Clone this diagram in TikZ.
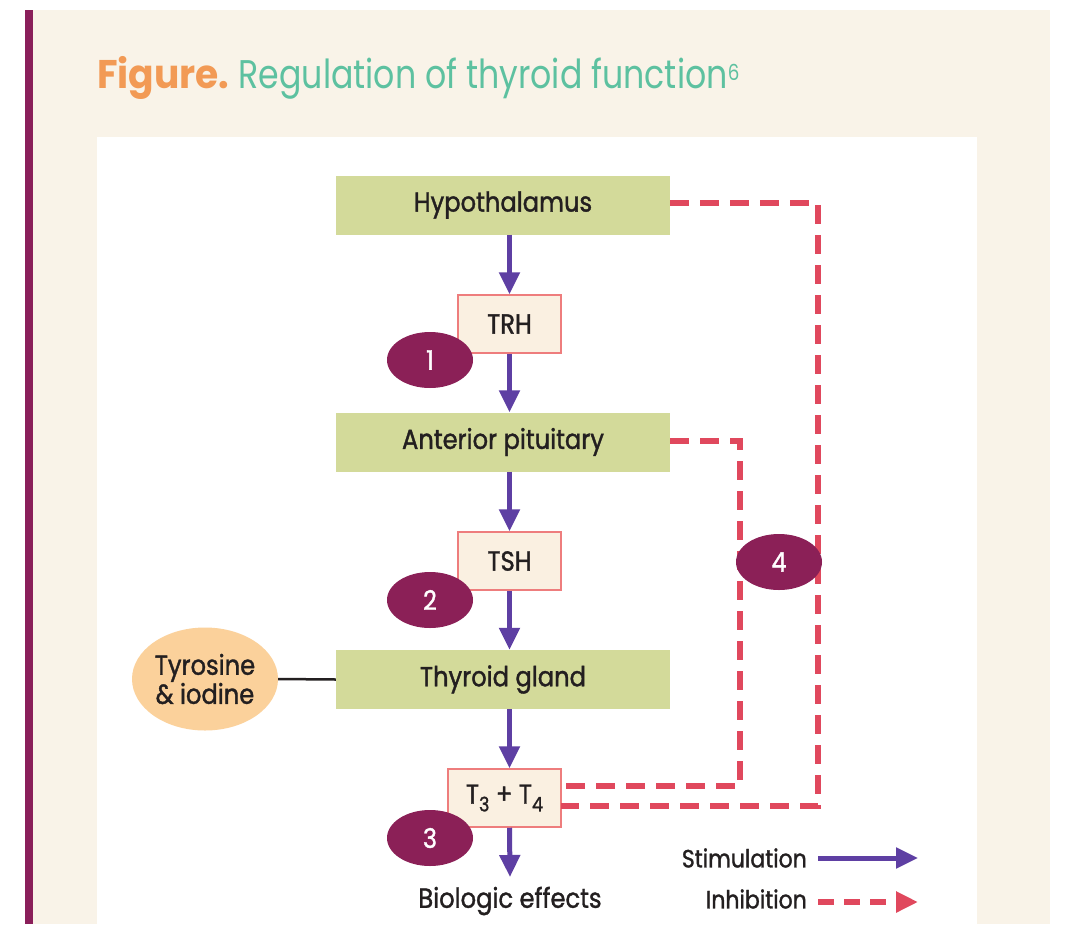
\documentclass[tikz,border=0pt]{standalone}
\usepackage{fontspec}
\setmainfont{Poppins}[FakeStretch=0.88]
\newfontfamily\boxfont{Poppins}[FakeStretch=0.88, FakeBold=1.3]
\newfontfamily\titlebold{Poppins Bold}[FakeStretch=0.94]
\newfontfamily\titlereg{Poppins}[FakeStretch=0.83]
\usetikzlibrary{arrows.meta,shapes.geometric}
\definecolor{creambg}{HTML}{F9F3E8}
\definecolor{barpurple}{HTML}{8A1F5A}
\definecolor{boxgreen}{HTML}{D3DA9A}
\definecolor{smallfill}{HTML}{FAF0E1}
\definecolor{smallborder}{HTML}{EE7D7D}
\definecolor{numpurple}{HTML}{8B2057}
\definecolor{arrowpurple}{HTML}{5E3FA3}
\definecolor{inhibred}{HTML}{E0485D}
\definecolor{tyrorange}{HTML}{FBD19B}
\definecolor{titleorange}{HTML}{F29A55}
\definecolor{titleteal}{HTML}{5DC1A0}
\definecolor{textdark}{HTML}{231F20}
\newcommand{\subdig}[1]{\raisebox{-0.28em}{\fontsize{20}{22}\selectfont #1}}
\tikzset{
  bigbox/.style={fill=boxgreen, minimum width=334pt, minimum height=59pt, inner sep=0pt, font=\boxfont\fontsize{27.5}{30}\selectfont, text=textdark},
  smallbox/.style={fill=smallfill, draw=smallborder, line width=1.5pt, minimum width=103pt, minimum height=58pt, inner sep=0pt, font=\boxfont\fontsize{27.5}{30}\selectfont, text=textdark},
  numell/.style={ellipse, fill=numpurple, minimum width=86pt, minimum height=56pt, inner sep=0pt, text=white, font=\boxfont\fontsize{27}{30}\selectfont},
  stim/.style={draw=arrowpurple, line width=5pt, -{Triangle[length=22pt,width=20pt]}},
  inhib/.style={draw=inhibred, line width=6pt, dash pattern=on 19pt off 11pt},
  plain/.style={font=\boxfont\fontsize{27.5}{30}\selectfont, text=textdark, inner sep=0pt},
  legend/.style={font=\boxfont\fontsize{25}{30}\selectfont, text=textdark, inner sep=0pt},
}
\begin{document}
\begin{tikzpicture}[x=1pt,y=-1pt]
\useasboundingbox (0,0) rectangle (1068,924);
\fill[white] (0,0) rectangle (1068,924);
\fill[creambg] (30,10) rectangle (1050,924);
\fill[barpurple] (25,10) rectangle (33,924);
\fill[white] (97,137) rectangle (977,924);
% title
\node[anchor=base west, inner sep=0pt, font=\fontsize{40}{46}\selectfont] (title) at (97,88)
  {\textcolor{titleorange}{\titlebold Figure.}\hspace{9pt}\textcolor{titleteal}{\titlereg Regulation of thyroid function\raisebox{0.18em}{\fontsize{22}{26}\selectfont 6}}};
% boxes
\node[bigbox] (hyp) at (503,205) {Hypothalamus};
\node[smallbox] (trh) at (509.5,324) {TRH};
\node[bigbox] (ant) at (503,442) {Anterior pituitary};
\node[smallbox] (tsh) at (509.5,561) {TSH};
\node[bigbox] (thy) at (503,679.5) {Thyroid gland};
\node[smallbox, minimum width=113pt] (t34) at (504.5,798) {T\subdig{3} + T\subdig{4}};
\node[plain] (bio) at (510,901) {Biologic effects};
\coordinate (bioend) at (510,877);
% tyrosine
\node[ellipse, fill=tyrorange, minimum width=146pt, minimum height=103pt, inner sep=0pt, align=center, font=\boxfont\fontsize{27.5}{27}\selectfont, text=textdark] (tyr) at (205,679) {Tyrosine\\\& iodine};
\draw[line width=2.5pt, textdark] (tyr.east) -- (thy.west);
% stimulation arrows
\draw[stim] (trh.north |- hyp.south) -- (trh.north);
\draw[stim] (trh.south) -- (trh.south |- ant.north);
\draw[stim] (tsh.north |- ant.south) -- (tsh.north);
\draw[stim] (tsh.south) -- (tsh.south |- thy.north);
\draw[stim] (tsh.south |- thy.south) -- (tsh.south |- t34.north);
\draw[stim] (tsh.south |- t34.south) -- (bioend);
% inhibition paths
\coordinate (c1) at (818,203);
\coordinate (c2) at (818,806);
\coordinate (t34b) at (561,806);
\coordinate (d1) at (740,441);
\coordinate (d2) at (740,786);
\coordinate (t34a) at (561,786);
\draw[inhib] (hyp.east |- c1) -- (c1) -- (c2) -- (t34b);
\draw[inhib] (ant.east |- d1) -- (d1) -- (d2) -- (t34a);
% number ellipses
\node[numell] (n1) at (430,360) {1};
\node[numell] (n2) at (430,600) {2};
\node[numell] (n3) at (430,838) {3};
\node[numell] (n4) at (779,562) {4};
% legend
\node[legend, anchor=east] (lstim) at (807,858) {Stimulation};
\node[legend, anchor=east] (linh) at (807,899) {Inhibition};
\coordinate (ls1) at (818,858);
\coordinate (ls2) at (918,858);
\coordinate (li1) at (818,902);
\coordinate (li2) at (918,902);
\draw[stim] (ls1) -- (ls2);
\draw[inhib, -{Triangle[length=22pt,width=20pt]}, dash pattern=on 16pt off 10pt] (li1) -- (li2);
\end{tikzpicture}
\end{document}
